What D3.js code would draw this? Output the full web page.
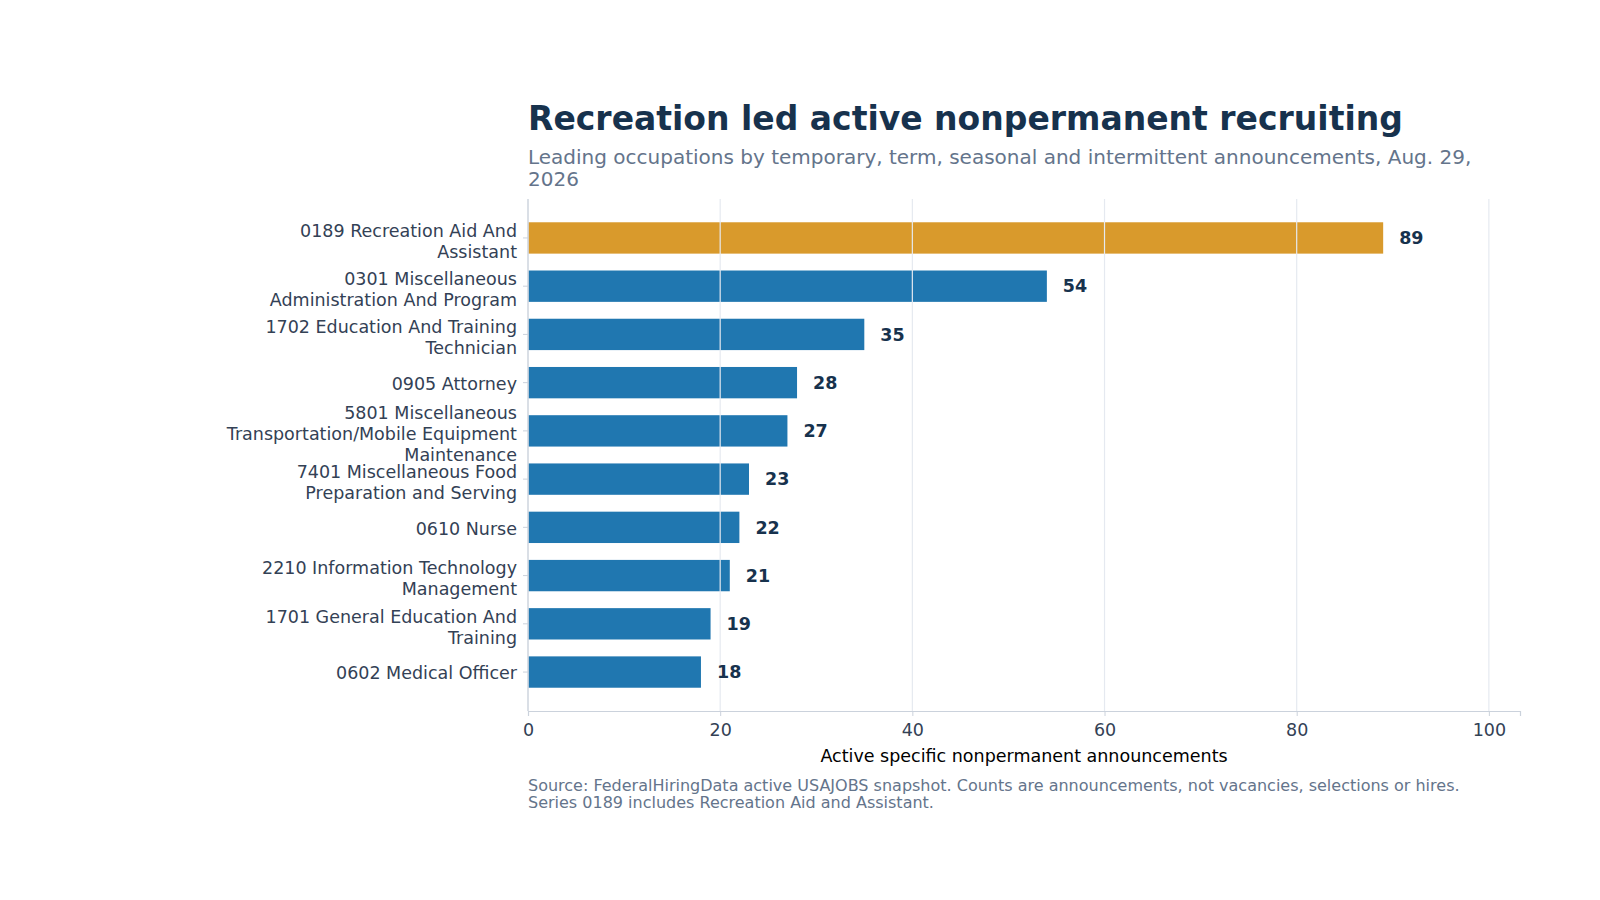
<!DOCTYPE html>
<html>
<head>
<meta charset="utf-8">
<script src="https://cdn.jsdelivr.net/npm/d3@7"></script>
<style>
  body { margin: 0; background: #fff; }
  svg { font-family: "DejaVu Sans", sans-serif; }
</style>
</head>
<body>
<div id="chart"></div>
<script>
// data
const occupations = [
  ["0189 Recreation Aid And", "Assistant"],
  ["0301 Miscellaneous", "Administration And Program"],
  ["1702 Education And Training", "Technician"],
  ["0905 Attorney"],
  ["5801 Miscellaneous", "Transportation/Mobile Equipment", "Maintenance"],
  ["7401 Miscellaneous Food", "Preparation and Serving"],
  ["0610 Nurse"],
  ["2210 Information Technology", "Management"],
  ["1701 General Education And", "Training"],
  ["0602 Medical Officer"]
];
const counts = [89, 54, 35, 28, 27, 23, 22, 21, 19, 18];
const xTicks = [0, 20, 40, 60, 80, 100];

const W = 1600, H = 900;
const margin = {top: 199, right: 80, bottom: 189, left: 528};
const width = W - margin.left - margin.right,
      height = H - margin.top - margin.bottom;

const svg = d3.select("#chart").append("svg")
  .attr("width", W).attr("height", H);

// title + subtitle
svg.append("text")
  .attr("x", 528).attr("y", 130)
  .style("font-size", "33px").style("font-weight", "bold")
  .style("fill", "#17324d")
  .text("Recreation led active nonpermanent recruiting");

const sub = svg.append("text")
  .attr("x", 528).attr("y", 164)
  .style("font-size", "20px").style("fill", "#64748b");
sub.append("tspan").attr("x", 528).text("Leading occupations by temporary, term, seasonal and intermittent announcements, Aug. 29,");
sub.append("tspan").attr("x", 528).attr("dy", 22).text("2026");

const g = svg.append("g")
  .attr("transform", "translate(" + margin.left + "," + margin.top + ")");

var x = d3.scaleLinear()
  .domain([0, d3.max(counts) * 1.16])
  .range([0, width]);

// barh-like index scale, height 0.65 plus 5% margins
var n = counts.length, bh = 0.65;
var pad = (n - 1 + bh) * 0.05 + bh / 2;
var y = d3.scaleLinear()
  .domain([-pad, n - 1 + pad])
  .range([0, height]);

// bars
g.selectAll("rect.bar")
  .data(counts)
  .enter().append("rect")
  .attr("class", "bar")
  .attr("x", x(0))
  .attr("y", (d, i) => y(i - bh / 2))
  .attr("width", d => x(d) - x(0))
  .attr("height", y(bh) - y(0))
  .attr("fill", (d, i) => i === 0 ? "#d99a2c" : "#2077b0");

// grid on top of bars
g.selectAll("line.grid")
  .data(xTicks)
  .enter().append("line")
  .attr("class", "grid")
  .attr("x1", d => x(d)).attr("x2", d => x(d))
  .attr("y1", 0).attr("y2", height)
  .attr("stroke", "#e5e9f0").attr("stroke-width", 1.2);

// value labels
g.selectAll("text.val")
  .data(counts)
  .enter().append("text")
  .attr("class", "val")
  .attr("x", d => x(d) + 16)
  .attr("y", (d, i) => y(i))
  .attr("dy", "0.36em")
  .style("font-size", "17.5px").style("font-weight", "bold")
  .style("fill", "#17324d")
  .text(d => d);

// x axis
const xAxis = g.append("g")
  .attr("transform", "translate(0," + height + ")")
  .call(d3.axisBottom(x).tickValues(xTicks).tickSize(5).tickPadding(8));
xAxis.select(".domain").attr("stroke", "#cbd2dc").attr("stroke-width", 1.2);
xAxis.selectAll(".tick line").attr("stroke", "#cbd2dc");
xAxis.selectAll("text")
  .style("font-size", "17.5px").style("fill", "#334155")
  .style("font-family", "DejaVu Sans");

// left spine
g.append("line")
  .attr("x1", 0).attr("x2", 0).attr("y1", 0).attr("y2", height)
  .attr("stroke", "#cbd2dc").attr("stroke-width", 1.2);

// y ticks + wrapped labels
const yt = g.selectAll("g.ytick")
  .data(occupations)
  .enter().append("g")
  .attr("class", "ytick")
  .attr("transform", (d, i) => "translate(0," + y(i) + ")");
yt.append("line")
  .attr("x1", -5).attr("x2", 0)
  .attr("stroke", "#cbd2dc");
yt.append("text")
  .attr("text-anchor", "end")
  .style("font-size", "17.5px").style("fill", "#334155")
  .each(function(lines) {
    const t = d3.select(this);
    const lh = 21;
    const off = -(lines.length - 1) * lh / 2 + (lines.length > 1 ? 3 : 1);
    lines.forEach((s, k) => {
      t.append("tspan")
        .attr("x", -11)
        .attr("y", off + k * lh)
        .attr("dy", "0.36em")
        .text(s);
    });
  });

// axis label
svg.append("text")
  .attr("x", margin.left + width / 2)
  .attr("y", 762)
  .attr("text-anchor", "middle")
  .style("font-size", "17.5px").style("fill", "#000")
  .text("Active specific nonpermanent announcements");

// source note
const src = svg.append("text")
  .attr("x", 528).attr("y", 791)
  .style("font-size", "16px").style("fill", "#64748b");
src.append("tspan").attr("x", 528)
  .text("Source: FederalHiringData active USAJOBS snapshot. Counts are announcements, not vacancies, selections or hires.");
src.append("tspan").attr("x", 528).attr("dy", 17)
  .text("Series 0189 includes Recreation Aid and Assistant.");
</script>
</body>
</html>
